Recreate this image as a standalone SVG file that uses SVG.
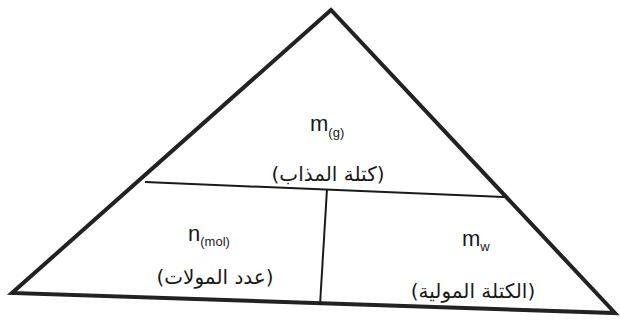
<svg xmlns="http://www.w3.org/2000/svg" width="620" height="322" viewBox="0 0 620 322">
<style>
.outer{fill:#fff;stroke:#222;stroke-width:4;stroke-linejoin:miter}
.div{fill:none;stroke:#1a1a1a;stroke-width:2}
.sym{font-family:"Liberation Sans","DejaVu Sans",sans-serif;font-size:22px;fill:#1a1a1a}
.sub{font-size:13px}
.ar{font-family:"DejaVu Sans","Liberation Sans",sans-serif;font-size:20px;fill:#1a1a1a}
</style>
<rect width="620" height="322" fill="#fff"/>
<g id="connectors">
<polygon class="outer" points="331,10 12,293 615,313"/>
<line class="div" x1="145" y1="182" x2="504" y2="197"/>
<line class="div" x1="327" y1="189" x2="320" y2="305"/>
</g>
<g id="top">
<text class="sym" x="310" y="131">m<tspan class="sub" dy="6">(g)</tspan></text>
<text class="ar" x="328" y="181" text-anchor="middle" direction="rtl">(كتلة المذاب)</text>
</g>
<g id="left">
<text class="sym" x="188" y="241">n<tspan class="sub" dy="5">(mol)</tspan></text>
<text class="ar" x="215" y="284" text-anchor="middle" direction="rtl">(عدد المولات)</text>
</g>
<g id="right">
<text class="sym" x="462" y="246">m<tspan class="sub" dy="5">w</tspan></text>
<text class="ar" x="473" y="298" text-anchor="middle" direction="rtl">(الكتلة المولية)</text>
</g>
</svg>
